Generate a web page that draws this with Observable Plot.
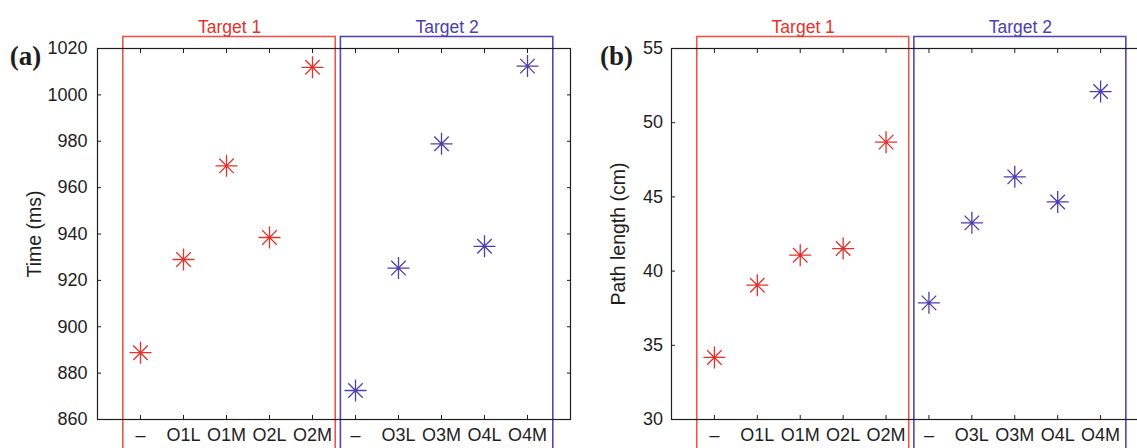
<!DOCTYPE html>
<html>
<head>
<meta charset="utf-8">
<script src="https://cdn.jsdelivr.net/npm/d3@7"></script>
<script src="https://cdn.jsdelivr.net/npm/@observablehq/plot@0.6"></script>
<style>
  body { margin: 0; background: white; }
  #wrap { position: relative; width: 1137px; height: 448px; overflow: hidden; display: flex; background: white; }
  #wrap svg { flex: none; }
</style>
</head>
<body>
<div id="wrap"></div>
<script>
// ---- data ----
const categories = ["–", "O1L", "O1M", "O2L", "O2M", "–", "O3L", "O3M", "O4L", "O4M"];
const targetOf   = [1, 1, 1, 1, 1, 2, 2, 2, 2, 2];
const timeMs     = [888.8, 929.0, 969.4, 938.5, 1011.9, 872.5, 925.3, 978.9, 934.7, 1012.4];
const pathCm     = [34.18, 39.05, 41.07, 41.52, 48.69, 37.86, 43.25, 46.35, 44.66, 52.1];
const targetNames = ["Target 1", "Target 2"];
const timeTicks  = [860, 880, 900, 920, 940, 960, 980, 1000, 1020];
const pathTicks  = [30, 35, 40, 45, 50, 55];

// ---- styles ----
const RED = "#e2332d", BLUE = "#4b3fae";
const BOX_RED = "#e8564d", BOX_BLUE = "#5247b4";
const INK = "#1e1e1e";
const FONT = "'Liberation Sans', Arial, sans-serif";
const FS = 18;

const idx = categories.map((_, i) => i + 1);
const points = (vals) => categories.map((c, i) => ({pos: i + 1, cat: c, value: vals[i], target: targetOf[i]}));

// boxes spanning each target's categories (padding is styling)
const groups = targetNames.map((name, g) => {
  const members = idx.filter((p, i) => targetOf[i] === g + 1);
  const padL = g === 0 ? 0.4 : 0.34, padR = g === 0 ? 0.54 : 0.6;
  return {name, x1: d3.min(members) - padL, x2: d3.max(members) + padR,
          color: g === 0 ? RED : BLUE, box: g === 0 ? BOX_RED : BOX_BLUE};
});

// Matlab-like '*' marker: + and x
const star = {
  draw(ctx, size) {
    const R = Math.sqrt(size / Math.PI), d = R * 0.66;
    ctx.moveTo(-R, 0); ctx.lineTo(R, 0);
    ctx.moveTo(0, -R); ctx.lineTo(0, R);
    ctx.moveTo(-d, -d); ctx.lineTo(d, d);
    ctx.moveTo(-d, d); ctx.lineTo(d, -d);
  }
};

function panel({vals, domain, ticks, width, marginLeft, tickPad, ylabel, ylabelDx, tag, tagDx}) {
  return Plot.plot({
    width, height: 448,
    marginTop: 48, marginBottom: 29, marginLeft, marginRight: 10,
    style: {fontFamily: FONT, fontSize: FS + "px", color: INK, background: "white", overflow: "visible"},
    x: {domain: [0, 11]},
    y: {domain},
    marks: [
      Plot.rect(groups, {x1: "x1", x2: "x2", fill: "none", stroke: "box", strokeWidth: 1.6, insetTop: -11.5, insetBottom: -60}),
      Plot.text(groups, {x: d => (d.x1 + d.x2) / 2, text: "name", fill: "color", frameAnchor: "top", textAnchor: "middle", dy: -28, fontSize: 17.5}),
      Plot.frame({stroke: INK, strokeWidth: 1.2}),
      Plot.axisY({anchor: "left", ticks, tickFormat: d => String(d), tickSize: -4, tickPadding: tickPad, label: null, stroke: INK, fill: INK, fontSize: FS}),
      Plot.axisY({anchor: "right", ticks, tickSize: -4, tickFormat: () => "", label: null, stroke: INK}),
      Plot.axisX({anchor: "bottom", ticks: idx, tickFormat: i => categories[i - 1], tickSize: -4, tickPadding: 13, label: null, stroke: INK, fill: INK, fontSize: FS}),
      Plot.axisX({anchor: "top", ticks: idx, tickFormat: () => "", tickSize: -4, label: null, stroke: INK}),
      Plot.dot(points(vals), {x: "pos", y: "value", symbol: star, r: 11, fill: "none",
        stroke: d => d.target === 1 ? RED : BLUE, strokeWidth: 1.3}),
      Plot.text([ylabel], {frameAnchor: "left", textAnchor: "middle", rotate: -90, dx: ylabelDx, fill: INK, fontSize: 19.5}),
      Plot.text([tag], {frameAnchor: "top-left", textAnchor: "middle", dx: tagDx, dy: -3, fontFamily: "'Liberation Serif', 'Times New Roman', serif", fontWeight: "bold", fontSize: 27, fill: INK})
    ]
  });
}

const a = panel({vals: timeMs, domain: [860, 1020], ticks: timeTicks, width: 580, marginLeft: 97, tickPad: 14,
  ylabel: "Time (ms)", ylabelDx: -63, tag: "(a)", tagDx: -72});
const b = panel({vals: pathCm, domain: [30, 55], ticks: pathTicks, width: 573, marginLeft: 91, tickPad: 12.5,
  ylabel: "Path length (cm)", ylabelDx: -53, tag: "(b)", tagDx: -55});
document.getElementById("wrap").append(a, b);
</script>
</body>
</html>
